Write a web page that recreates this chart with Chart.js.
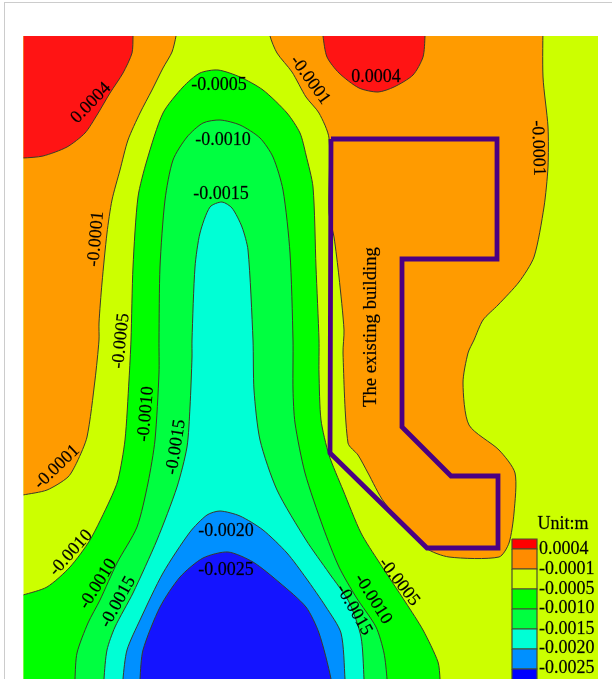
<!DOCTYPE html>
<html>
<head>
  <script src="https://cdn.jsdelivr.net/npm/chart.js"></script>
  <style>
    html, body { margin: 0; padding: 0; background: #fff; overflow: hidden; }
    #frame { position: absolute; left: 4px; top: 2px; width: 640px; height: 700px; border: 1.5px solid #ccc; }
    #chartContainer { position: absolute; left: 0; top: 0; }
  </style>
</head>
<body>
  <div id="frame"></div>
  <canvas id="chartContainer" width="612" height="679"></canvas>
  <script>
    // contour outlines, map units, they run past the map edge so the closing side is clipped away
    const mapArea = [[0, 0], [640, 0], [640, 700], [0, 700]];
    const orangeLeft = [[178, 20], [176, 36], [172, 52], [163, 68], [152, 90], [140, 113], [128, 140], [120, 170], [112, 200], [107, 233], [102, 283], [99, 323], [99, 340], [95, 380], [87, 437], [77, 462], [68, 477], [47, 490], [23, 495], [8, 498], [8, 20]];
    const orangeRight = [[268, 20], [270, 36], [277, 53], [292, 72], [306, 97], [319, 113], [329, 138], [329, 213], [334, 237], [339, 277], [344, 330], [343, 353], [348, 443], [358, 455], [368, 473], [384, 502], [426, 548], [449, 557], [499, 557], [509, 543], [514, 513], [515, 473], [499, 450], [469, 425], [463, 383], [468, 353], [474, 340], [483, 320], [498, 305], [519, 282], [534, 257], [544, 207], [548, 167], [548, 127], [543, 77], [543, 20]];
    const redLeft = [[8, 20], [133, 20], [133, 36], [132, 53], [123, 73], [110, 93], [97, 115], [85, 133], [67, 147], [43, 156], [23, 158], [8, 158]];
    const redMid = [[322, 20], [323, 36], [327, 57], [339, 73], [359, 88], [378, 92], [394, 87], [413, 75], [423, 57], [425, 36], [425, 20]];
    const greenBand = [[8, 599], [23, 595], [47, 587], [70, 567], [90, 540], [110, 500], [118, 480], [125, 440], [129, 380], [131, 340], [133, 267], [138, 197], [147, 160], [163, 113], [183, 87], [200, 73], [218, 70], [240, 77], [263, 90], [287, 113], [300, 133], [306, 155], [313, 187], [316, 267], [319, 340], [319, 373], [321, 420], [329, 455], [343, 490], [361, 533], [379, 562], [406, 603], [423, 630], [438, 662], [440, 679], [440, 695], [8, 695]];
    const springBand = [[75, 695], [75, 679], [77, 653], [88, 623], [100, 600], [117, 563], [137, 527], [148, 483], [155, 440], [159, 373], [159, 340], [160, 267], [165, 200], [173, 160], [187, 137], [203, 123], [220, 120], [240, 125], [260, 138], [273, 157], [283, 190], [290, 253], [293, 340], [293, 390], [295, 423], [305, 473], [323, 527], [339, 567], [356, 597], [376, 627], [384, 653], [387, 679], [387, 695]];
    const cyanBand = [[104, 695], [104, 679], [107, 650], [115, 627], [133, 593], [157, 540], [177, 487], [187, 447], [190, 407], [192, 357], [192, 340], [195, 267], [200, 233], [210, 207], [222, 202], [232, 208], [242, 227], [248, 250], [253, 340], [254, 390], [260, 440], [277, 490], [306, 540], [329, 573], [349, 602], [361, 637], [364, 679], [364, 695]];
    const blueBand = [[123, 695], [123, 679], [127, 650], [140, 620], [163, 573], [190, 532], [207, 515], [220, 511], [240, 516], [263, 530], [287, 553], [306, 578], [326, 607], [341, 633], [345, 679], [345, 695]];
    const deepBand = [[140, 695], [140, 679], [143, 650], [160, 607], [180, 577], [203, 558], [228, 552], [253, 562], [280, 583], [306, 607], [319, 633], [331, 679], [331, 695]];
    const buildingWall = [[331, 139], [497, 139], [497, 259], [402, 259], [402, 427], [451, 476], [498, 476], [498, 548], [427, 548], [330, 453], [331, 139]];

    const bandColors = ['#CCFF00', '#FF9B00', '#FF9B00', '#FF1414', '#FF1414', '#00FF00', '#00FF40', '#00FFD5', '#0090FF', '#1414FF'];
    const bandShapes = [mapArea, orangeLeft, orangeRight, redLeft, redMid, greenBand, springBand, cyanBand, blueBand, deepBand];

    // colour key
    const keyLabels = ['0.0004', '-0.0001', '-0.0005', '-0.0010', '-0.0015', '-0.0020', '-0.0025'];
    const keyColors = ['#FF0000', '#FF8C00', '#CCFF00', '#00FF00', '#00FF40', '#00FFD5', '#0090FF', '#0000FF'];
    const keyEdges = [539, 549, 569, 589, 609, 629, 649, 669, 685];
    const keyLabelY = [549, 569, 589, 608, 629, 648, 668];

    // contour labels
    const contourLabels = ['-0.0005', '-0.0010', '-0.0015', '0.0004', '-0.0020', '-0.0025', '0.0004', '-0.0001', '-0.0005', '-0.0010', '-0.0015', '-0.0001', '-0.0010', '-0.0010', '-0.0015', '-0.0005', '-0.0010', '-0.0015', '-0.0001', '-0.0001'];
    const contourLabelX = [219, 223, 221, 376, 226, 226, 91, 96, 121, 146, 176, 57, 71, 98, 118, 399, 373, 354, 538, 310];
    const contourLabelY = [85, 140, 194, 77, 531, 570, 103, 239, 341, 414, 447, 467, 553, 584, 602, 582, 599, 610, 148, 80];
    const contourLabelAngle = [0, 0, 0, 0, 0, 0, -46, -85, -84, -85, -81, -44, -48, -58, -61, 52, 58, 60, 88, 54];

    function drawLabel(ctx, chart, text, x, y, angle, align) {
      ctx.save();
      ctx.translate(chart.scales.x.getPixelForValue(x), chart.scales.y.getPixelForValue(y));
      ctx.rotate(angle * Math.PI / 180);
      ctx.textAlign = align;
      ctx.textBaseline = 'middle';
      ctx.fillText(text, 0, 0);
      ctx.strokeText(text, 0, 0); // reference text sits a bit heavier
      ctx.restore();
    }

    const mapText = {
      id: 'mapText',
      afterDatasetsDraw(chart) {
        const ctx = chart.ctx;
        ctx.save();
        ctx.fillStyle = '#000';
        ctx.strokeStyle = 'rgba(0, 0, 0, 0.6)';
        ctx.lineWidth = 0.3;
        ctx.font = '18px "Liberation Serif"';
        contourLabels.forEach((t, i) => drawLabel(ctx, chart, t, contourLabelX[i], contourLabelY[i], contourLabelAngle[i], 'center'));
        keyLabels.forEach((t, i) => drawLabel(ctx, chart, t, 539, keyLabelY[i], 0, 'left'));
        drawLabel(ctx, chart, 'Unit:m', 563, 524, 0, 'center');
        ctx.font = '18.7px "Liberation Serif"';
        drawLabel(ctx, chart, 'The existing building', 371, 327, -90, 'center');
        ctx.restore();
      }
    };

    const datasets = [];
    bandShapes.forEach((shape, i) => {
      datasets.push({
        data: shape,
        showLine: true,
        fill: 'shape',
        backgroundColor: bandColors[i],
        borderColor: i == 0 ? 'transparent' : '#3a3a2a',
        borderWidth: i == 0 ? 0 : 1,
        tension: 0.25,
        pointRadius: 0,
        clip: 0
      });
    });
    keyColors.forEach((color, i) => {
      datasets.push({
        data: [[512, keyEdges[i]], [537, keyEdges[i]], [537, keyEdges[i + 1]], [512, keyEdges[i + 1]], [512, keyEdges[i]]],
        showLine: true,
        fill: 'shape',
        backgroundColor: color,
        borderColor: '#4a4a30',
        borderWidth: 1.2,
        tension: 0,
        pointRadius: 0,
        clip: 0
      });
    });
    datasets.push({
      data: buildingWall,
      showLine: true,
      fill: false,
      borderColor: '#4B0082',
      borderWidth: 4.8,
      borderJoinStyle: 'miter',
      tension: 0,
      pointRadius: 0,
      clip: 0
    });
    // library paints the first dataset last
    datasets.reverse();

    new Chart(document.getElementById('chartContainer').getContext('2d'), {
      type: 'scatter',
      data: { datasets: datasets },
      plugins: [mapText],
      options: {
        responsive: false,
        animation: false,
        layout: { padding: { left: 23.5, top: 36, right: 14, bottom: 0 } },
        elements: { line: { capBezierPoints: false } },
        plugins: { legend: { display: false }, tooltip: { enabled: false } },
        scales: {
          x: { display: false, min: 23.5, max: 598 },
          y: { display: false, reverse: true, min: 36, max: 679 }
        }
      }
    });
  </script>
</body>
</html>
